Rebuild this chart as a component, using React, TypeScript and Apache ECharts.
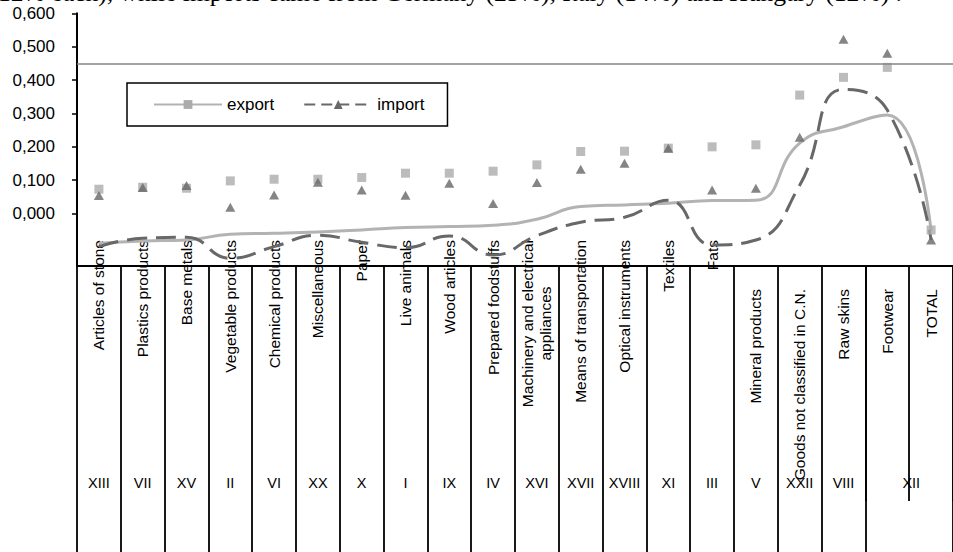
import React, { useEffect, useRef } from 'react';
import * as echarts from 'echarts';

const categories = [
  'Articles of stone', 'Plastics products', 'Base metals', 'Vegetable products', 'Chemical products',
  'Miscellaneous', 'Paper', 'Live animals', 'Wood articles', 'Prepared foodstuffs',
  'Machinery and electrical appliances', 'Means of transportation', 'Optical instruments', 'Textiles', 'Fats',
  'Mineral products', 'Goods not classified in C.N.', 'Raw skins', 'Footwear', 'TOTAL',
];
const sections = ['XIII', 'VII', 'XV', 'II', 'VI', 'XX', 'X', 'I', 'IX', 'IV', 'XVI', 'XVII', 'XVIII', 'XI', 'III', 'V', 'XXII', 'VIII', 'XII', ''];

const exportPoints = [0.073, 0.079, 0.076, 0.098, 0.103, 0.103, 0.108, 0.121, 0.121, 0.127, 0.146, 0.186, 0.187, 0.196, 0.2, 0.206, 0.355, 0.408, 0.438, -0.049];
const importPoints = [0.054, 0.078, 0.084, 0.019, 0.056, 0.094, 0.071, 0.055, 0.091, 0.030, 0.093, 0.133, 0.151, 0.196, 0.071, 0.076, 0.229, 0.522, 0.480, -0.079];

const exportCurve = [-0.089, -0.082, -0.079, -0.062, -0.059, -0.055, -0.049, -0.042, -0.039, -0.035, -0.017, 0.021, 0.026, 0.031, 0.039, 0.040, 0.211, 0.26, 0.295, -0.052];
const importCurve = [-0.099, -0.074, -0.071, -0.134, -0.099, -0.065, -0.086, -0.102, -0.067, -0.124, -0.066, -0.026, -0.011, 0.040, -0.094, -0.079, 0.085, 0.372, 0.31, -0.079];

const yTicks = [0, 0.1, 0.2, 0.3, 0.4, 0.5, 0.6];
const yMin = -0.157;
const yMax = 0.6;
const referenceLine = 0.448;
const upperLabelCount = 15;
const headerText = '12% each), while imports came from Germany (25%), Italy (14%) and Hungary (12%) .';

const SANS = '"Liberation Sans", Arial, sans-serif';
const BLACK = '#000000';

export default function App() {
  const ref = useRef<HTMLDivElement>(null);

  useEffect(() => {
    const chart = echarts.init(ref.current as HTMLDivElement, null, { renderer: 'svg' });

    const richLabel = {
      a: { fontSize: 15.5, fontFamily: SANS, color: BLACK, lineHeight: 18 },
      b: { fontSize: 15.5, fontFamily: SANS, color: BLACK, lineHeight: 18, width: 167, align: 'center' },
    };

    const option = {
      animation: false,
      backgroundColor: '#ffffff',
      graphic: [
        {
          type: 'text',
          x: -2,
          y: -8,
          silent: true,
          style: {
            text: headerText,
            font: '25.6px "Liberation Serif", "Times New Roman", serif',
            fill: BLACK,
            align: 'left',
            verticalAlign: 'middle',
          },
        },
      ],
      grid: { left: 77, right: -6, top: 13.3, bottom: 286, containLabel: false },
      legend: {
        left: 127,
        top: 83,
        selectedMode: false,
        itemWidth: 68,
        itemHeight: 11,
        itemGap: 29,
        padding: [13, 23, 13, 26],
        borderColor: BLACK,
        borderWidth: 1.5,
        backgroundColor: '#ffffff',
        textStyle: { fontSize: 17, color: BLACK, fontFamily: SANS },
        data: [
          { name: 'export', lineStyle: { width: 2 } },
          { name: 'import', lineStyle: { width: 2, type: [11, 6] } },
        ],
      },
      xAxis: [
        {
          type: 'category',
          data: categories,
          position: 'bottom',
          boundaryGap: true,
          axisLine: { show: true, onZero: false, lineStyle: { color: BLACK, width: 2 } },
          axisTick: {
            show: true,
            length: 290,
            interval: (i: number) => i !== 19,
            lineStyle: { color: BLACK, width: 1.8 },
          },
          axisLabel: {
            interval: 0,
            rotate: 90,
            margin: -26,
            fontSize: 15.5,
            fontFamily: SANS,
            color: BLACK,
            rich: richLabel,
            formatter: (v: string, i: number) => {
              if (i >= upperLabelCount) return '';
              if (v === 'Machinery and electrical appliances') return '{a|Machinery and electrical}\n{b|appliances}';
              return v;
            },
          },
          splitLine: { show: false },
        },
        {
          type: 'category',
          data: categories,
          position: 'bottom',
          boundaryGap: true,
          axisLine: { show: false, onZero: false },
          axisTick: {
            show: true,
            length: 235,
            interval: (i: number) => i >= 18,
            lineStyle: { color: BLACK, width: 1.8 },
          },
          axisLabel: {
            interval: 0,
            rotate: 90,
            margin: 23,
            fontSize: 15.5,
            fontFamily: SANS,
            color: BLACK,
            formatter: (v: string, i: number) => (i >= upperLabelCount ? v : ''),
          },
          splitLine: { show: false },
        },
        {
          type: 'category',
          data: categories,
          position: 'bottom',
          boundaryGap: true,
          axisLine: { show: false, onZero: false },
          axisTick: { show: false },
          axisLabel: {
            interval: 0,
            rotate: 0,
            margin: 209,
            fontSize: 14.5,
            fontFamily: SANS,
            color: BLACK,
            rich: { s: { fontSize: 14.5, fontFamily: SANS, color: BLACK, padding: [0, 0, 0, 48] } },
            formatter: (_v: string, i: number) => (i === 18 ? '{s|' + sections[i] + '}' : sections[i]),
          },
          splitLine: { show: false },
        },
      ],
      yAxis: {
        type: 'value',
        min: yMin,
        max: yMax,
        axisLine: { show: true, lineStyle: { color: BLACK, width: 2 } },
        axisTick: { show: true, customValues: yTicks, length: 5, lineStyle: { color: BLACK, width: 1.5 } },
        axisLabel: {
          customValues: yTicks,
          margin: 22,
          fontSize: 17,
          fontFamily: SANS,
          color: BLACK,
          formatter: (v: number) => v.toFixed(3).replace('.', ','),
        },
        splitLine: { show: false },
      },
      series: [
        {
          name: 'export',
          type: 'line',
          xAxisIndex: 0,
          data: exportCurve,
          smooth: 0.5,
          symbol: 'rect',
          showSymbol: false,
          lineStyle: { color: '#b3b3b3', width: 3 },
          itemStyle: { color: '#ababab', borderWidth: 0 },
          z: 3,
          markLine: {
            silent: true,
            symbol: ['none', 'none'],
            label: { show: false },
            lineStyle: { color: '#858585', width: 1.5, type: 'solid' },
            data: [{ yAxis: referenceLine }],
          },
        },
        {
          name: 'import',
          type: 'line',
          xAxisIndex: 0,
          data: importCurve,
          smooth: 0.5,
          symbol: 'triangle',
          showSymbol: false,
          lineStyle: { color: '#686868', width: 3, type: [20, 9] },
          itemStyle: { color: '#686868', borderWidth: 0 },
          z: 3,
        },
        {
          name: 'exportPoints',
          type: 'scatter',
          xAxisIndex: 0,
          data: exportPoints,
          symbol: 'rect',
          symbolSize: 9,
          itemStyle: { color: '#ababab' },
          z: 4,
        },
        {
          name: 'importPoints',
          type: 'scatter',
          xAxisIndex: 0,
          data: importPoints,
          symbol: 'triangle',
          symbolSize: [10, 9],
          itemStyle: { color: '#676767' },
          z: 5,
        },
      ],
    };

    chart.setOption(option as any);
    return () => chart.dispose();
  }, []);

  return (
    <div
      ref={ref}
      style={{ position: 'fixed', left: 0, top: 0, width: 953, height: 552, background: '#ffffff' }}
    />
  );
}
